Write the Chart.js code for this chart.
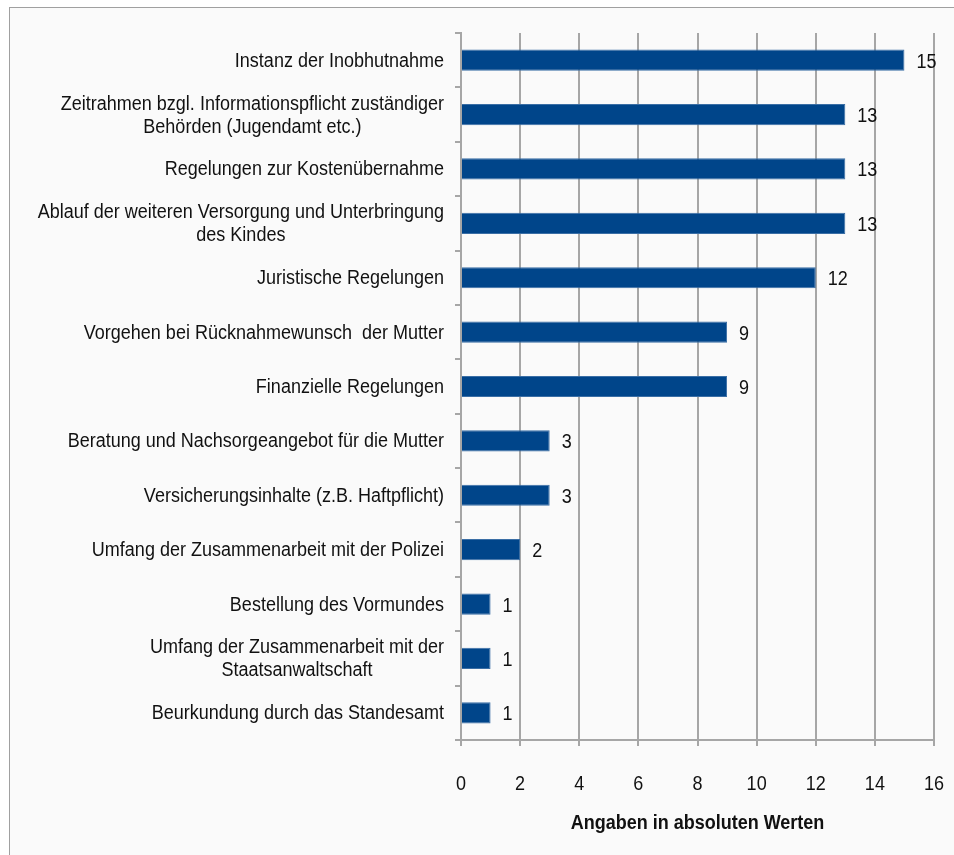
<!DOCTYPE html>
<html>
<head>
<meta charset="utf-8">
<script src="https://cdn.jsdelivr.net/npm/chart.js@4"></script>
<style>
    html, body { margin: 0; padding: 0; background: #ffffff; overflow: hidden; }
    .frame {
        position: absolute; left: 9px; top: 7px; width: 960px; height: 870px;
        border: 1px solid #a0a0a0; background: #fafafa;
    }
    #wrap { position: absolute; left: 0; top: 0; width: 954px; height: 855px; }
</style>
</head>
<body>
<div class="frame"></div>
<div id="wrap"><canvas id="chart"></canvas></div>
<script>
// Data
const categories = [
    ['Instanz der Inobhutnahme'],
    ['Zeitrahmen bzgl. Informationspflicht zuständiger', 'Behörden (Jugendamt etc.)'],
    ['Regelungen zur Kostenübernahme'],
    ['Ablauf der weiteren Versorgung und Unterbringung', 'des Kindes'],
    ['Juristische Regelungen'],
    ['Vorgehen bei Rücknahmewunsch  der Mutter'],
    ['Finanzielle Regelungen'],
    ['Beratung und Nachsorgeangebot für die Mutter'],
    ['Versicherungsinhalte (z.B. Haftpflicht)'],
    ['Umfang der Zusammenarbeit mit der Polizei'],
    ['Bestellung des Vormundes'],
    ['Umfang der Zusammenarbeit mit der', 'Staatsanwaltschaft'],
    ['Beurkundung durch das Standesamt']
];
const counts = [15, 13, 13, 13, 12, 9, 9, 3, 3, 2, 1, 1, 1];
const xTicks = [0, 2, 4, 6, 8, 10, 12, 14, 16];
const axisTitle = 'Angaben in absoluten Werten';

const FONT = "'Liberation Sans', Arial, sans-serif";
const BAR = '#00458a';
const GRID = '#a6a6a6';
const SQUEEZE = 0.9; // narrow look of the original typeface

// draw text squeezed horizontally
function narrowText(ctx, text, x, y, align) {
    const w = ctx.measureText(text).width * SQUEEZE;
    let left = x;
    if (align === 'center') left = x - w / 2;
    else if (align === 'right') left = x - w;
    ctx.save();
    ctx.translate(left, y);
    ctx.scale(SQUEEZE, 1);
    ctx.textAlign = 'left';
    ctx.fillText(text, 0, 0);
    ctx.restore();
}

// Category labels, tick labels and axis title
const textLayer = {
    id: 'textLayer',
    afterDraw(chart) {
        const ctx = chart.ctx;
        const y = chart.scales.y;
        const x = chart.scales.x;
        ctx.save();
        ctx.fillStyle = '#111';
        ctx.textBaseline = 'middle';
        ctx.font = '20px ' + FONT;

        const right = y.right - 17;
        const lh = 23;
        categories.forEach((lines, i) => {
            const cy = y.getPixelForTick(i) + 1;
            const w = Math.max(...lines.map(l => ctx.measureText(l).width)) * SQUEEZE;
            const cx = right - w / 2;
            const top = cy - (lines.length - 1) * lh / 2;
            lines.forEach((l, k) => narrowText(ctx, l, cx, top + k * lh, 'center'));
        });

        xTicks.forEach(v => {
            narrowText(ctx, String(v), x.getPixelForValue(v), x.top + 44, 'center');
        });

        ctx.font = 'bold 20px ' + FONT;
        narrowText(ctx, axisTitle, (x.left + x.right) / 2, x.top + 83, 'center');
        ctx.restore();
    }
};

// Value labels at the end of each bar
const valueLabels = {
    id: 'valueLabels',
    afterDatasetsDraw(chart) {
        const ctx = chart.ctx;
        const meta = chart.getDatasetMeta(0);
        ctx.save();
        ctx.font = '20px ' + FONT;
        ctx.fillStyle = '#111';
        ctx.textBaseline = 'middle';
        meta.data.forEach((bar, i) => {
            narrowText(ctx, String(counts[i]), bar.x + 12, bar.y + 2, 'left');
        });
        ctx.restore();
    }
};

new Chart(document.getElementById('chart'), {
    type: 'bar',
    data: {
        labels: categories.map(c => c.join(' ')),
        datasets: [{
            data: counts,
            backgroundColor: BAR,
            borderColor: '#3a6ea5',
            borderWidth: 1,
            barPercentage: 0.39,
            categoryPercentage: 1
        }]
    },
    options: {
        indexAxis: 'y',
        responsive: true,
        maintainAspectRatio: false,
        animation: false,
        layout: { padding: { top: 33, right: 20, left: 0, bottom: 0 } },
        plugins: {
            legend: { display: false },
            tooltip: { enabled: false }
        },
        scales: {
            x: {
                min: 0,
                max: 16,
                afterBuildTicks(scale) {
                    scale.ticks = xTicks.map(v => ({ value: v }));
                },
                grid: {
                    color: GRID,
                    lineWidth: 2,
                    tickLength: 6,
                    drawTicks: true
                },
                border: { color: GRID, width: 2 },
                ticks: { display: false },
                afterFit(scale) { scale.height = 115; }
            },
            y: {
                offset: true,
                grid: {
                    offset: true,
                    drawOnChartArea: false,
                    drawTicks: true,
                    tickLength: 6,
                    color: GRID,
                    lineWidth: 2
                },
                border: { color: GRID, width: 2 },
                ticks: { display: false },
                afterFit(scale) { scale.width = 461; }
            }
        }
    },
    plugins: [textLayer, valueLabels]
});
</script>
</body>
</html>
